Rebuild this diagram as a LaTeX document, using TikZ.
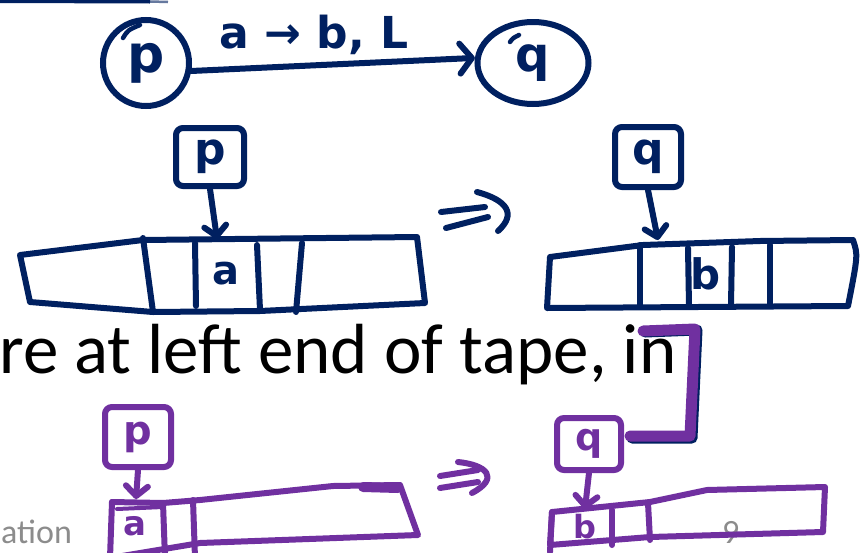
\documentclass[tikz,border=0pt]{standalone}
\usepackage{fontspec}
\setmainfont{Carlito}
\newfontfamily\hand{DejaVu Sans}
\usetikzlibrary{arrows.meta,shapes.geometric}
\definecolor{inknavy}{HTML}{002060}
\definecolor{inkpurple}{HTML}{7030A0}
\definecolor{slidegray}{HTML}{8C8C8C}
\tikzset{
  ink/.style={line width=6pt, line cap=round, line join=round},
  navyink/.style={ink, draw=inknavy},
  purpink/.style={ink, draw=inkpurple},
  statenode/.style={ellipse, draw=inknavy, line width=6pt, inner sep=0pt, text=inknavy},
  headbox/.style={rectangle, rounded corners=7pt, line width=6pt, inner sep=0pt},
  letter/.style={font=\hand\bfseries\fontsize{#1}{#1}\selectfont, inner sep=0pt},
  bigbarb/.style={-{Straight Barb[length=12pt,width=30pt,round]}},
  smallbarb/.style={-{Straight Barb[length=10pt,width=22pt,round]}},
  foottext/.style={anchor=base west, inner sep=0pt, text depth=0pt, text=slidegray, font=\fontsize{34}{34}\selectfont},
}
\begin{document}
\begin{tikzpicture}[x=1pt,y=-1pt]
\useasboundingbox (0,0) rectangle (862,552);
\fill[white] (0,0) rectangle (862,552);

% stroke along the top edge
\draw[inknavy, line width=4pt] (0,1) -- (150,1.5);
\draw[inknavy, line width=2.5pt, opacity=0.6] (150,1.5) -- (168,2);

% ---------- state diagram ----------
\node[statenode, minimum width=86pt, minimum height=86pt, letter=52] (p) at (146,63) {\raisebox{2pt}{p}};
\node[statenode, minimum width=111pt, minimum height=82pt, letter=48] (q) at (533,63) {q};
\draw[navyink, line width=4.5pt] (123,38) .. controls (128,30) .. (140,25);
\draw[navyink, line width=4.5pt] (510,42) .. controls (513,38) .. (519,35);
\draw[navyink, bigbarb] (p.-10) -- (q.175);
\node[letter=44, text=inknavy] (lbl) at (314,35) {a → b, L};

% ---------- before the move ----------
\node[headbox, draw=inknavy, minimum width=68pt, minimum height=58pt, letter=44, text=inknavy] (hp) at (210,157) {p};
\draw[navyink] (20,255) -- (143,240) -- (417,237) -- (425,303) -- (260,311) -- (153,312) -- (30,302) -- cycle;
\draw[navyink] (143,238) -- (153,312);
\draw[navyink] (195,243) -- (196,306);
\draw[navyink] (257,245) -- (260,310);
\draw[navyink] (302,243) -- (296,312);
\node[letter=40, text=inknavy] (ca) at (226,274) {a};
\coordinate (tapeA) at (217,239);
\draw[navyink, smallbarb] (hp.south) -- (tapeA);

% "implies" arrow
\draw[navyink] (441,212) -- (485,207);
\draw[navyink] (446,228) -- (488,217);
\draw[navyink] (477,192) .. controls (507,200) and (517,214) .. (498,231);

% ---------- after the move ----------
\node[headbox, draw=inknavy, minimum width=66pt, minimum height=60pt, letter=44, text=inknavy] (hq) at (648,157) {q};
\draw[navyink] (550,257) -- (643,245) -- (760,241) -- (853,240) .. controls (858,255) .. (848,306) -- (547,308) -- cycle;
\draw[navyink] (640,245) -- (640,305);
\draw[navyink] (688,248) -- (689,306);
\draw[navyink] (732,247) -- (731,305);
\draw[navyink] (770,245) -- (770,305);
\node[letter=42, text=inknavy] (cb) at (706,274) {b};
\coordinate (tapeB) at (658,240);
\draw[navyink, smallbarb] (hq.south) -- (tapeB);

% ---------- slide text ----------
\node[anchor=base west, inner sep=0pt, font=\fontsize{71}{71}\selectfont] (txt) at (-1,373) {re at left end of tape, in};
\node[foottext] (foot) at (1,543) {ation};
\node[foottext] (pagenum) at (722,543) {9};

% bracket
\draw[inknavy, line width=11pt, line cap=round, line join=round] (645,332) -- (697,330) -- (692,438) -- (632,438);
\draw[inkpurple, line width=11pt, line cap=round, line join=round] (643,331) -- (695,329) -- (690,436) -- (630,436);

% ---------- left end, before ----------
\node[headbox, draw=inkpurple, minimum width=66pt, minimum height=60pt, letter=40, text=inkpurple] (lp) at (138,437) {p};
\draw[purpink] (112,502) -- (163,503) -- (200,500) -- (333,486) -- (400,485) -- (418,535) -- (200,543) -- (110,558);
\draw[purpink] (112,502) -- (110,558);
\draw[purpink, line width=4pt] (117,509) -- (163,507);
\draw[purpink] (163,503) -- (165,558);
\draw[purpink] (193,500) -- (195,558);
\draw[inkpurple, line width=10pt, line cap=round] (363,487) -- (398,488);
\node[letter=34, text=inkpurple] (la) at (135,526) {a};
\coordinate (tapeC) at (136,499);
\draw[purpink, smallbarb] (lp.south) -- (tapeC);

% "implies" arrow
\draw[purpink] (440,476) -- (478,470);
\draw[purpink] (440,488) -- (478,482);
\draw[purpink] (458,462) .. controls (487,465) and (500,478) .. (472,493);

% ---------- left end, after ----------
\node[headbox, draw=inkpurple, minimum width=64pt, minimum height=52pt, letter=38, text=inkpurple] (rq) at (589,444) {q};
\draw[purpink] (552,512) -- (650,502) -- (707,490) -- (825,487) -- (823,532) -- (650,537) -- (550,545) -- cycle;
\draw[purpink] (552,512) -- (550,552);
\draw[purpink] (612,510) -- (612,545);
\draw[purpink] (648,503) -- (650,540);
\node[letter=32, text=inkpurple] (rb) at (585,527) {b};
\coordinate (tapeD) at (585,509);
\draw[purpink, smallbarb] (rq.south) -- (tapeD);
\end{tikzpicture}
\end{document}
